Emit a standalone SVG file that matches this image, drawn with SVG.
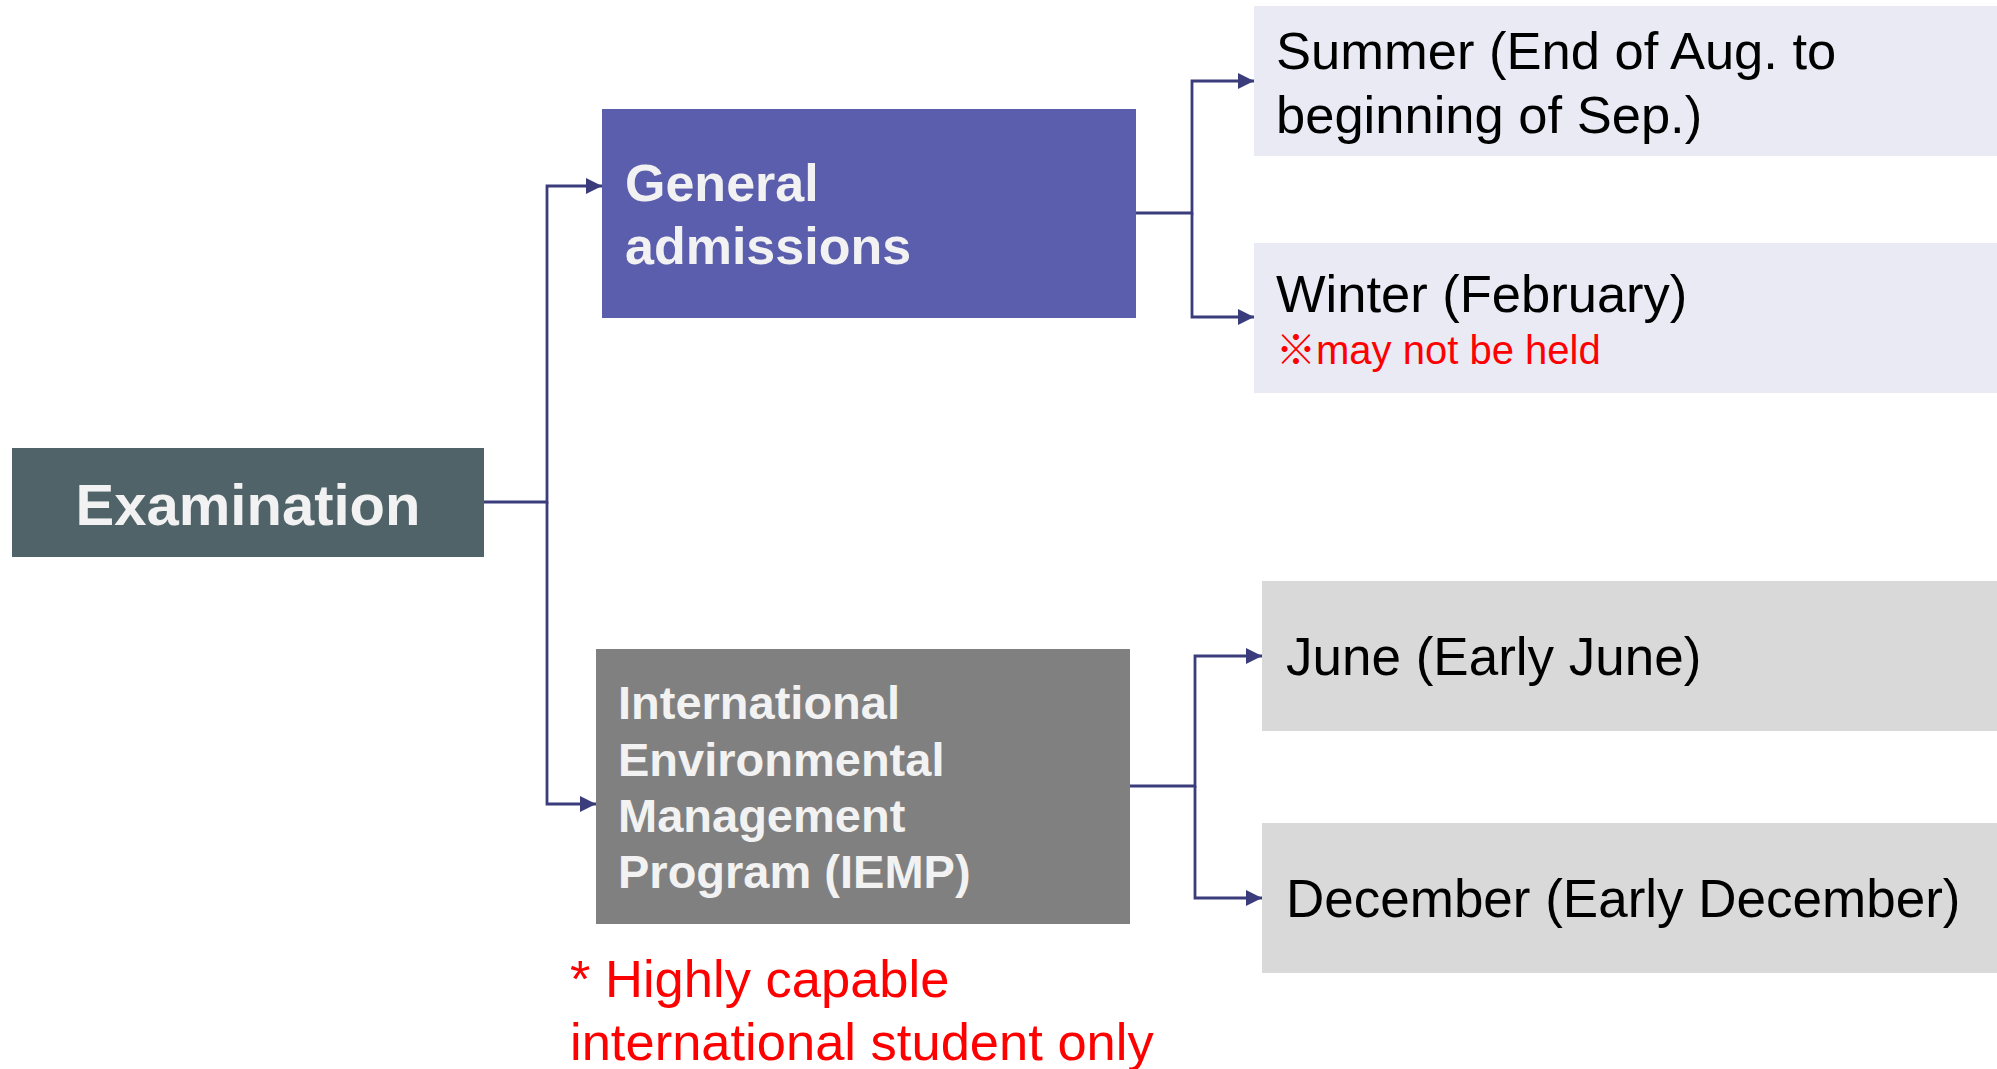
<svg xmlns="http://www.w3.org/2000/svg" width="1997" height="1069" viewBox="0 0 1997 1069">
<style>
text{font-family:"Liberation Sans",Arial,"Noto Sans CJK JP",sans-serif}
.wb{fill:#F2F2F2;font-weight:bold}
.dk{fill:#000}
.rd{fill:#FF0000}
.con{fill:none;stroke:#3A3C7C;stroke-width:2.8}
</style>
<defs>
<marker id="ah" markerUnits="userSpaceOnUse" markerWidth="16" markerHeight="16" refX="16" refY="8" orient="auto">
<path d="M0,0 L16,8 L0,16 z" fill="#3A3C7C"/>
</marker>
</defs>
<rect width="1997" height="1069" fill="#FFFFFF"/>
<g id="connectors">
<path class="con" d="M484,502 H547 V186 H602" marker-end="url(#ah)"/>
<path class="con" d="M547,502 V804 H596" marker-end="url(#ah)"/>
<path class="con" d="M1136,213 H1192 V81 H1254" marker-end="url(#ah)"/>
<path class="con" d="M1192,213 V317 H1254" marker-end="url(#ah)"/>
<path class="con" d="M1130,786 H1195 V656 H1262" marker-end="url(#ah)"/>
<path class="con" d="M1195,786 V898 H1262" marker-end="url(#ah)"/>
</g>
<g id="examination">
<rect x="12" y="448" width="472" height="109" fill="#4F6369"/>
<text class="wb" x="248" y="525" font-size="58" text-anchor="middle">Examination</text>
</g>
<g id="general">
<rect x="602" y="109" width="534" height="209" fill="#5B5EAD"/>
<text class="wb" x="625" y="201" font-size="52">General</text>
<text class="wb" x="625" y="264" font-size="52">admissions</text>
</g>
<g id="iemp">
<rect x="596" y="649" width="534" height="275" fill="#808080"/>
<text class="wb" x="618" y="719" font-size="47">International</text>
<text class="wb" x="618" y="776" font-size="47">Environmental</text>
<text class="wb" x="618" y="832" font-size="47">Management</text>
<text class="wb" x="618" y="888" font-size="47">Program (IEMP)</text>
</g>
<g id="summer">
<rect x="1254" y="6" width="743" height="150" fill="#EAEAF4"/>
<text class="dk" x="1276" y="69" font-size="52.5">Summer (End of Aug. to</text>
<text class="dk" x="1276" y="133" font-size="52.5">beginning of Sep.)</text>
</g>
<g id="winter">
<rect x="1254" y="243" width="743" height="150" fill="#EAEAF4"/>
<text class="dk" x="1276" y="312" font-size="52.5">Winter (February)</text>
<text class="rd" x="1276" y="364" font-size="40">※may not be held</text>
</g>
<g id="june">
<rect x="1262" y="581" width="735" height="150" fill="#D9D9D9"/>
<text class="dk" x="1286" y="675" font-size="53">June (Early June)</text>
</g>
<g id="december">
<rect x="1262" y="823" width="735" height="150" fill="#D9D9D9"/>
<text class="dk" x="1286" y="917" font-size="53">December (Early December)</text>
</g>
<g id="note">
<text class="rd" x="570" y="997" font-size="52.5">* Highly capable</text>
<text class="rd" x="570" y="1060" font-size="52.5">international student only</text>
</g>
</svg>
